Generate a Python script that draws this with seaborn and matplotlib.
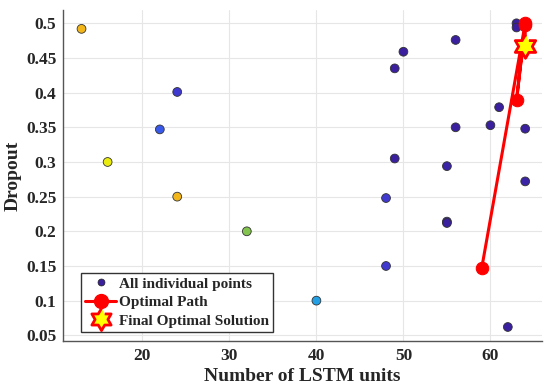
import numpy as np
import pandas as pd
import seaborn as sns
import matplotlib.pyplot as plt
from matplotlib.colors import LinearSegmentedColormap
from matplotlib.lines import Line2D

# all evaluated points (LSTM units, dropout, colour score)
units = [13, 24, 22, 16, 24, 32, 40, 48, 48, 55, 55, 62,
         63, 63, 56, 50, 49, 61, 56, 60, 64, 49, 55, 64]
dropout = [0.492, 0.401, 0.347, 0.300, 0.250, 0.200, 0.100, 0.248, 0.150, 0.214, 0.212, 0.062,
           0.500, 0.494, 0.476, 0.459, 0.435, 0.379, 0.350, 0.353, 0.348, 0.305, 0.294, 0.272]
score = [1.00, 0.12, 0.25, 0.82, 1.00, 0.65, 0.45, 0.12, 0.12, 0.0, 0.0, 0.0,
         0.0, 0.0, 0.0, 0.0, 0.0, 0.0, 0.0, 0.0, 0.0, 0.0, 0.02, 0.02]

# optimal path and final solution
path_units = [59, 64, 63, 64, 64]
path_dropout = [0.147, 0.500, 0.389, 0.497, 0.467]
best_units = [64]
best_dropout = [0.467]

df = pd.DataFrame({'units': units, 'dropout': dropout, 'score': score})
df_path = pd.DataFrame({'units': path_units, 'dropout': path_dropout})

cmap = LinearSegmentedColormap.from_list(
    'pts', ['#3a209e', '#4343e4', '#2f6ef2', '#1db3e0', '#8dc63f', '#f2ee0a', '#f3b61a'])

# hexagram marker
ang = np.pi / 2 + np.arange(12) * np.pi / 6
rad = np.where(np.arange(12) % 2 == 0, 1.0, 1 / np.sqrt(3))
hexagram = list(zip(rad * np.cos(ang), rad * np.sin(ang)))

sns.set_style("whitegrid")
plt.rcParams['font.family'] = ['Liberation Serif', 'DejaVu Serif']
plt.rcParams['font.weight'] = 'bold'

fig = plt.figure(figsize=(5.5, 3.9), dpi=100)
ax = fig.add_axes([0.115, 0.126, 0.870, 0.848])

sns.scatterplot(data=df, x='units', y='dropout', hue='score', palette=cmap,
                hue_norm=(0, 1), s=40, edgecolor='#333333', linewidth=0.6,
                legend=False, ax=ax, zorder=3)
sns.lineplot(data=df_path, x='units', y='dropout', sort=False, estimator=None,
             color='red', linewidth=2.2, marker='o', markersize=9,
             markeredgecolor='red', ax=ax, zorder=4)
ax.plot(best_units, best_dropout, linestyle='none', marker=hexagram, markersize=17,
        markerfacecolor='yellow', markeredgecolor='red', markeredgewidth=2, zorder=5)

ax.set_xlim(10.9, 65.9)
ax.set_ylim(0.042, 0.519)
ax.set_xticks([20, 30, 40, 50, 60])
ax.set_yticks([0.05, 0.1, 0.15, 0.2, 0.25, 0.3, 0.35, 0.4, 0.45, 0.5])
ax.set_yticklabels(['0.05', '0.1', '0.15', '0.2', '0.25', '0.3', '0.35', '0.4', '0.45', '0.5'])
ax.tick_params(axis='both', labelsize=12.5, direction='in', length=3, color='#555555', pad=5)
for lab in ax.get_xticklabels() + ax.get_yticklabels():
    lab.set_fontweight('bold')
ax.grid(color='#e6e6e6', linewidth=0.8)
for side in ['top', 'right']:
    ax.spines[side].set_visible(False)
for side in ['left', 'bottom']:
    ax.spines[side].set_color('#555555')
    ax.spines[side].set_linewidth(1.0)

ax.set_xlabel("Number of LSTM units", fontsize=14, fontweight='bold', labelpad=3)
ax.set_ylabel("Dropout", fontsize=14, fontweight='bold', labelpad=3)

handles = [
    Line2D([], [], linestyle='none', marker='o', markersize=5, markerfacecolor='#3a209e',
           markeredgecolor='#222222', markeredgewidth=0.5),
    Line2D([], [], color='red', linewidth=2.2, marker='o', markersize=10),
    Line2D([], [], linestyle='none', marker=hexagram, markersize=16, markerfacecolor='yellow',
           markeredgecolor='red', markeredgewidth=2),
]
leg = ax.legend(handles, ['All individual points', 'Optimal Path', 'Final Optimal Solution'],
                loc='lower left', bbox_to_anchor=(0.038, 0.028), borderaxespad=0,
                fancybox=False, framealpha=1, edgecolor='#333333',
                prop={'weight': 'bold', 'size': 11}, handlelength=2.0, handletextpad=0.2,
                labelspacing=0.32, borderpad=0.25)
leg.get_frame().set_linewidth(1.0)

fig.savefig('out.png', dpi=100)
